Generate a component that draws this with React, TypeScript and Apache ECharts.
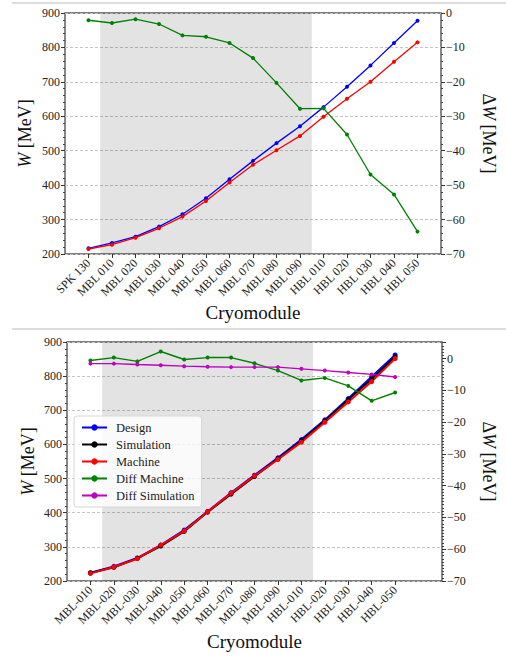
import React, { useEffect, useRef } from 'react';
import * as echarts from 'echarts';

// ---------- Top chart data ----------
const topCategories = ['SPK 130', 'MBL 010', 'MBL 020', 'MBL 030', 'MBL 040', 'MBL 050', 'MBL 060', 'MBL 070', 'MBL 080', 'MBL 090', 'HBL 010', 'HBL 020', 'HBL 030', 'HBL 040', 'HBL 050'];
const topDesign = [216.5, 232, 250.4, 279.5, 315.4, 362, 417, 470.5, 522, 571.3, 626.6, 685.7, 747.8, 812.8, 877.7];
const topMachine = [214.5, 227, 247.5, 274.7, 308.6, 354, 407.5, 459, 501.5, 543, 598.5, 651, 700.3, 758.5, 814.7];
const topDiff = [-2.1, -2.9, -1.8, -3.2, -6.5, -6.9, -8.7, -13.1, -20.3, -27.8, -27.7, -35.3, -46.9, -52.7, -63.5];

// ---------- Bottom chart data ----------
const botCategories = ['MBL-010', 'MBL-020', 'MBL-030', 'MBL-040', 'MBL-050', 'MBL-060', 'MBL-070', 'MBL-080', 'MBL-090', 'HBL-010', 'HBL-020', 'HBL-030', 'HBL-040', 'HBL-050'];
const botDesign = [224.4, 242.9, 267.3, 305.3, 349.2, 403.8, 458.4, 510, 560.7, 614.3, 671.9, 734.3, 798.6, 862];
const botSimulation = [223.4, 240, 266.3, 302.4, 345.3, 401.8, 454.5, 506.1, 557.8, 610.5, 669, 731.3, 791.8, 857.2];
const botMachine = [222.4, 241, 265.3, 305.3, 346.2, 402.8, 457.4, 508, 555.9, 606.6, 665, 724.5, 784, 851.3];
const botDiffMachine = [-0.6, 0.3, -0.9, 2.2, -0.3, 0.3, 0.3, -1.5, -3.8, -6.9, -6.1, -8.6, -13.3, -10.7];
const botDiffSimulation = [-1.6, -1.6, -1.9, -2.1, -2.4, -2.6, -2.7, -2.7, -2.7, -3.25, -3.8, -4.4, -5.0, -5.8];

// shaded cryomodule span (category index units)
const shadeSpan = [0.5, 9.5];
const wRange = [200, 900];
const dwTopRange = [-70, 0];
const dwBotRange = [-70, 5.2];

const FONT = "'Liberation Serif', 'Times New Roman', serif";

const fmtMinus = (v: number) => (v < 0 ? '\u2212' + Math.abs(v) : String(v));

const pairs = (arr: number[]) => arr.map((v, i) => [i, v]);

function xAxisFor(gridIndex: number, cats: string[]) {
  const idx = cats.map((_, i) => i);
  return {
    type: 'value',
    gridIndex,
    min: -1,
    max: 15,
    interval: 1,
    name: 'Cryomodule',
    nameLocation: 'middle',
    nameGap: gridIndex === 0 ? 49 : 51,
    nameTextStyle: { fontFamily: FONT, fontSize: 19, color: '#111' },
    axisLine: { show: false, onZero: false },
    axisTick: { show: true, length: 4, lineStyle: { color: '#333' }, customValues: idx },
    axisLabel: {
      rotate: 45,
      margin: 7,
      fontFamily: FONT,
      fontSize: 12,
      color: '#222',
      customValues: idx,
      formatter: (v: number) => cats[Math.round(v)] ?? '',
    },
    splitLine: { show: false },
  };
}

function leftAxis(gridIndex: number) {
  return {
    type: 'value',
    gridIndex,
    position: 'left',
    min: wRange[0],
    max: wRange[1],
    interval: 100,
    name: '{i|W} [MeV]',
    nameLocation: 'middle',
    nameGap: gridIndex === 0 ? 31 : 30,
    nameMoveOverlap: false,
    nameTextStyle: {
      fontFamily: FONT,
      fontSize: 18,
      color: '#111',
      rich: { i: { fontFamily: FONT, fontSize: 18, fontStyle: 'italic', color: '#111' } },
    },
    axisLine: { show: false, onZero: false },
    axisTick: { show: true, length: 4, lineStyle: { color: '#333' } },
    minorTick: { show: true, splitNumber: 5, length: 2, lineStyle: { color: '#444' } },
    axisLabel: { fontFamily: FONT, fontSize: 12, color: '#222', margin: 5 },
    splitLine: { show: true, lineStyle: { color: '#c4c4c4', type: [3, 2], width: 1 } },
  };
}

function rightAxis(gridIndex: number, range: number[], minorSplit: number) {
  return {
    type: 'value',
    gridIndex,
    position: 'right',
    min: range[0],
    max: range[1],
    interval: 10,
    name: '{d|\u0394}{i|W} [MeV]',
    nameLocation: 'middle',
    nameGap: gridIndex === 0 ? 39 : 38,
    nameRotate: -90,
    nameMoveOverlap: false,
    nameTextStyle: {
      fontFamily: FONT,
      fontSize: 18,
      color: '#111',
      rich: {
        d: { fontFamily: FONT, fontSize: 18, color: '#111' },
        i: { fontFamily: FONT, fontSize: 18, fontStyle: 'italic', color: '#111' },
      },
    },
    axisLine: { show: false, onZero: false },
    axisTick: { show: true, length: 4, lineStyle: { color: '#333' } },
    minorTick: { show: true, splitNumber: minorSplit, length: 2, lineStyle: { color: '#444' } },
    axisLabel: {
      fontFamily: FONT,
      fontSize: 12,
      color: '#222',
      margin: 5,
      formatter: (v: number) => (Math.abs(v % 10) < 1e-6 ? fmtMinus(v) : ''),
    },
    splitLine: { show: false },
  };
}

function lineSeries(name: string, data: number[], color: string, xi: number, yi: number, width: number, size: number, z: number) {
  return {
    name,
    type: 'line',
    xAxisIndex: xi,
    yAxisIndex: yi,
    data: pairs(data),
    symbol: 'circle',
    symbolSize: size,
    showSymbol: true,
    z,
    lineStyle: { color, width },
    itemStyle: { color },
    emphasis: { disabled: true },
  };
}

function shadeSeries(xi: number, yi: number) {
  return {
    type: 'line',
    xAxisIndex: xi,
    yAxisIndex: yi,
    data: [],
    z: 1,
    silent: true,
    markArea: {
      silent: true,
      itemStyle: { color: 'rgba(0,0,0,0.11)' },
      data: [[{ xAxis: shadeSpan[0] }, { xAxis: shadeSpan[1] }]],
    },
  };
}

export default function App() {
  const ref = useRef<HTMLDivElement>(null);
  useEffect(() => {
    if (!ref.current) return;
    const chart = echarts.init(ref.current, undefined, { renderer: 'svg' });
    chart.setOption({
      animation: false,
      backgroundColor: '#fff',
      textStyle: { fontFamily: FONT },
      grid: [
        { left: 65, top: 13, width: 394, height: 241, show: true, borderColor: '#555', borderWidth: 1.4, backgroundColor: 'transparent' },
        { left: 67, top: 342, width: 392, height: 239, show: true, borderColor: '#555', borderWidth: 1.4, backgroundColor: 'transparent' },
      ],
      xAxis: [xAxisFor(0, topCategories), xAxisFor(1, botCategories)],
      yAxis: [leftAxis(0), rightAxis(0, dwTopRange, 5), leftAxis(1), rightAxis(1, dwBotRange, 10)],
      legend: {
        left: 74,
        top: 416,
        orient: 'vertical',
        itemWidth: 25,
        itemHeight: 8,
        itemGap: 4,
        padding: [5, 7, 5, 7],
        backgroundColor: 'rgba(255,255,255,0.8)',
        borderColor: '#d6d6d6',
        borderWidth: 1,
        borderRadius: 3,
        textStyle: { fontFamily: FONT, fontSize: 12.5, color: '#222', padding: [0, 0, 0, 4] },
        data: ['Design', 'Simulation', 'Machine', 'Diff Machine', 'Diff Simulation'],
      },
      graphic: [
        { type: 'line', shape: { x1: 12, y1: 3, x2: 506, y2: 3 }, style: { stroke: '#bbb', lineWidth: 1.2 } },
        { type: 'line', shape: { x1: 12, y1: 329, x2: 506, y2: 329 }, style: { stroke: '#bbb', lineWidth: 1.2 } },
      ],
      series: [
        shadeSeries(0, 0),
        lineSeries('Design (top)', topDesign, '#0000ff', 0, 0, 1.3, 4, 3),
        lineSeries('Machine (top)', topMachine, '#ff0000', 0, 0, 1.3, 4, 3),
        lineSeries('Diff (top)', topDiff, '#008000', 0, 1, 1.3, 4, 3),
        shadeSeries(1, 2),
        lineSeries('Design', botDesign, '#0000ff', 1, 2, 2, 5, 3),
        lineSeries('Simulation', botSimulation, '#000000', 1, 2, 2, 5, 3),
        lineSeries('Machine', botMachine, '#ff0000', 1, 2, 2, 5, 3),
        lineSeries('Diff Machine', botDiffMachine, '#008000', 1, 3, 1.4, 4, 3),
        lineSeries('Diff Simulation', botDiffSimulation, '#bf00bf', 1, 3, 1.4, 4, 3),
      ],
    });
    return () => chart.dispose();
  }, []);
  return <div ref={ref} style={{ position: 'fixed', left: 0, top: 0, width: 506, height: 657 }} />;
}
